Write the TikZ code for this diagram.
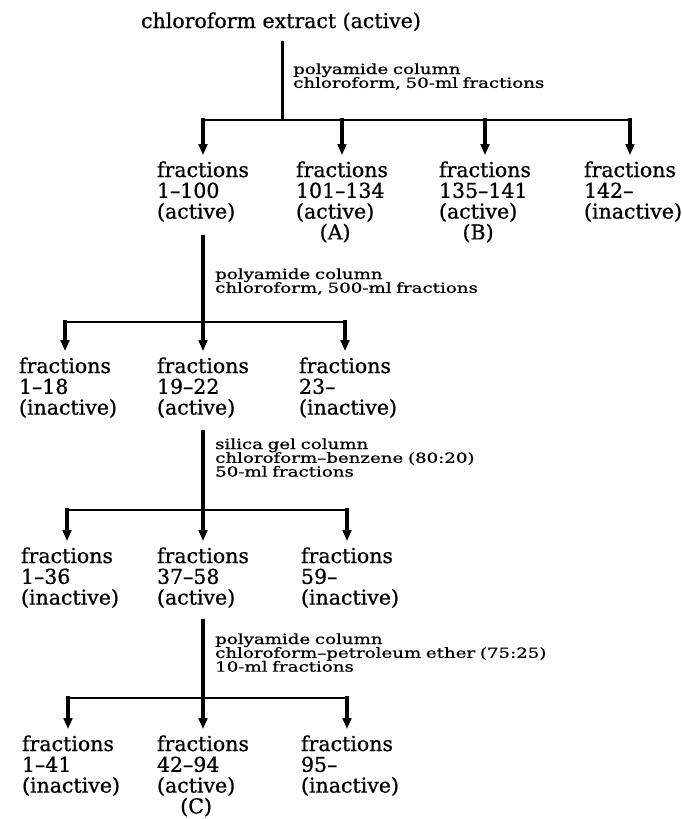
\documentclass[tikz,border=0pt]{standalone}
\usepackage{fontspec}
\setmainfont[FakeBold=0.8]{DejaVu Serif}
\newfontfamily\lblfont[FakeStretch=1.3,FakeBold=0.8]{DejaVu Serif}
\usetikzlibrary{arrows.meta}
\newlength\fracw
\newlength\actw
\newcommand\bigf{\fontsize{20.5}{20.8}\selectfont\lineskiplimit=-50pt\relax}
\newcommand\smallf{\lblfont\fontsize{14}{13.8}\selectfont\lineskiplimit=-50pt\relax}
\begin{document}
\settowidth{\fracw}{\bigf fractions}%
\settowidth{\actw}{\bigf (active)}%
\begin{tikzpicture}[x=1pt,y=-1pt,
  frac/.style={font=\bigf, text width=\fracw, align=left, anchor=base, inner sep=0pt},
  lbl/.style={font=\smallf, text width=450pt, align=left, anchor=base west, inner sep=0pt},
  conn/.style={line width=3pt},
  hbar/.style={line width=2.3pt, line cap=rect},
  arr/.style={line width=3.1pt, line cap=rect, shorten >=6pt, -{Triangle[length=11pt,width=8.5pt]}}]
\useasboundingbox (0,0) rectangle (681,819);

% title
\node[font=\bigf, anchor=base, inner sep=0pt] (top) at (281,28) {chloroform extract (active)};
\coordinate (b1) at (282,120);
\draw[conn] ([yshift=-10pt]top.south -| b1) -- (b1);
\node[lbl] (l1) at (293,74) {polyamide column\\chloroform, 50-ml fractions};

% level 1
\node[frac] (f1a) at (203,177) {fractions\\1–100\\(active)};
\node[frac] (f1b) at (342,177) {fractions\\101–134\\(active)\\\makebox[\actw]{(A)}};
\node[frac] (f1c) at (485,177) {fractions\\135–141\\(active)\\\makebox[\actw]{(B)}};
\node[frac] (f1d) at (630,177) {fractions\\142–\\(inactive)};
\draw[hbar] (b1 -| f1a) -- (b1 -| f1d);
\draw[arr] (b1 -| f1a) -- (f1a.north);
\draw[arr] (b1 -| f1b) -- (f1b.north);
\draw[arr] (b1 -| f1c) -- (f1c.north);
\draw[arr] (b1 -| f1d) -- (f1d.north);

% level 2
\node[lbl] (l2) at (215,279) {polyamide column\\chloroform, 500-ml fractions};
\node[frac] (f2a) at (65,373) {fractions\\1–18\\(inactive)};
\node[frac] (f2b) at (203,373) {fractions\\19–22\\(active)};
\node[frac] (f2c) at (345,373) {fractions\\23–\\(inactive)};
\coordinate (b2) at (203,322);
\draw[hbar] (b2 -| f2a) -- (b2 -| f2c);
\draw[arr] ([yshift=-15pt]f1a.south) -- (f2b.north);
\draw[arr] (b2 -| f2a) -- (f2a.north);
\draw[arr] (b2 -| f2c) -- (f2c.north);

% level 3
\node[lbl] (l3) at (215,449) {silica gel column\\chloroform–benzene (80:20)\\50-ml fractions};
\node[frac] (f3a) at (67,563) {fractions\\1–36\\(inactive)};
\node[frac] (f3b) at (203,563) {fractions\\37–58\\(active)};
\node[frac] (f3c) at (347,563) {fractions\\59–\\(inactive)};
\coordinate (b3) at (203,510);
\draw[hbar] (b3 -| f3a) -- (b3 -| f3c);
\draw[arr] ([yshift=-14pt]f2b.south) -- (f3b.north);
\draw[arr] (b3 -| f3a) -- (f3a.north);
\draw[arr] (b3 -| f3c) -- (f3c.north);

% level 4
\node[lbl] (l4) at (215,644) {polyamide column\\chloroform–petroleum ether (75:25)\\10-ml fractions};
\node[frac] (f4a) at (68,751) {fractions\\1–41\\(inactive)};
\node[frac] (f4b) at (203,751) {fractions\\42–94\\(active)\\\makebox[\actw]{(C)}};
\node[frac] (f4c) at (347,751) {fractions\\95–\\(inactive)};
\coordinate (b4) at (203,698);
\draw[hbar] (b4 -| f4a) -- (b4 -| f4c);
\draw[arr] ([yshift=-13pt]f3b.south) -- (f4b.north);
\draw[arr] (b4 -| f4a) -- (f4a.north);
\draw[arr] (b4 -| f4c) -- (f4c.north);
\end{tikzpicture}
\end{document}
